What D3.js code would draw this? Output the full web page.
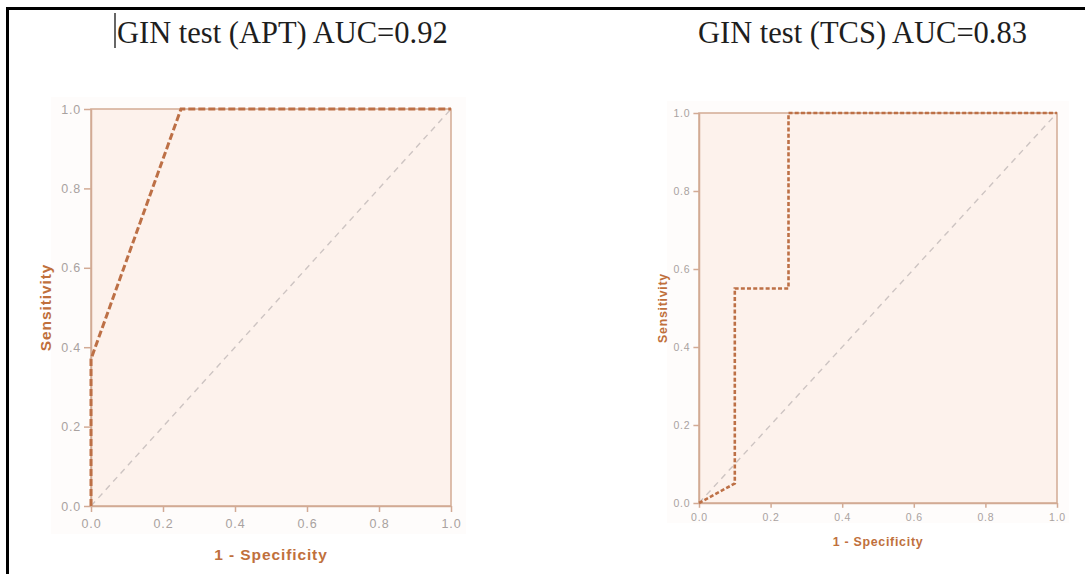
<!doctype html>
<html lang="en">
  <head>
    <meta charset="utf-8">
    <title>GIN test ROC curves</title>
    <script src="https://d3js.org/d3.v7.min.js"></script>
    <style>
    body { margin: 0; background: #fff; }
    .tick text { fill: #a9a2a0; font-family: "Liberation Sans", Arial, sans-serif; }
    </style>
  </head>

  <body>
    <svg width="1085" height="574"></svg>

    <script>
      // data
      var titles = ['GIN test (APT) AUC=0.92', 'GIN test (TCS) AUC=0.83'];
      var xLabel = '1 - Specificity';
      var yLabel = 'Sensitivity';
      var tickValues = [0, 0.2, 0.4, 0.6, 0.8, 1.0];

      var aptFpr = [0, 0, 0.25, 1];
      var aptTpr = [0, 0.37, 1, 1];

      var tcsFpr = [0, 0.1, 0.1, 0.25, 0.25, 1];
      var tcsTpr = [0, 0.05, 0.55, 0.55, 1, 1];

      var diagonal = [0, 1];

      var svg = d3.select('svg');

      // page frame (black lines top and left)
      svg.append('line').attr('x1', 6).attr('x2', 1085).attr('y1', 8.5).attr('y2', 8.5)
        .attr('stroke', '#000').attr('stroke-width', 3);
      svg.append('line').attr('x1', 7.5).attr('x2', 7.5).attr('y1', 7).attr('y2', 574)
        .attr('stroke', '#000').attr('stroke-width', 3);

      var axisColor = '#d2aa94';
      var curveColor = '#bd7046';

      var drawPanel = function(p, fpr, tpr, title) {
        var x = d3.scaleLinear().domain([0, 1]).range([p.left, p.right]);
        var y = d3.scaleLinear().domain([0, 1]).range([p.bottom, p.top]);
        var g = svg.append('g');

        // faint chart background
        g.append('rect')
          .attr('x', p.left - 40 * p.k).attr('y', p.top - 12)
          .attr('width', p.right - p.left + 55 * p.k).attr('height', p.bottom - p.top + 40 * p.k)
          .attr('fill', '#fefcfb');

        g.append('rect')
          .attr('x', p.left).attr('y', p.top)
          .attr('width', p.right - p.left).attr('height', p.bottom - p.top)
          .attr('fill', '#fdf2ec')
          .attr('stroke', axisColor).attr('stroke-width', 1.5);

        var fmt = d3.format('.1f');
        var ax = g.append('g')
          .attr('transform', 'translate(0,' + p.bottom + ')')
          .call(d3.axisBottom(x).tickValues(tickValues).tickFormat(fmt).tickSize(6 * p.k).tickSizeOuter(0));
        var ay = g.append('g')
          .attr('transform', 'translate(' + p.left + ',0)')
          .call(d3.axisLeft(y).tickValues(tickValues).tickFormat(fmt).tickSize(7 * p.k).tickSizeOuter(0));
        [ax, ay].forEach(function(a) {
          a.select('.domain').attr('stroke', axisColor).attr('stroke-width', 1.5);
          a.selectAll('.tick line').attr('stroke', axisColor).attr('stroke-width', 1.5);
          a.selectAll('.tick text').attr('font-size', p.tickFont).attr('letter-spacing', 0.8);
        });
        ax.selectAll('.tick text').attr('dy', '1.0em');

        // reference diagonal
        g.append('path')
          .datum(diagonal)
          .attr('d', d3.line().x(function(d) { return x(d); }).y(function(d) { return y(d); }))
          .attr('fill', 'none')
          .attr('stroke', '#cdc4c2')
          .attr('stroke-width', 1.4)
          .attr('stroke-dasharray', '6,5');

        // ROC curve
        g.append('path')
          .datum(d3.range(fpr.length))
          .attr('d', d3.line().x(function(i) { return x(fpr[i]); }).y(function(i) { return y(tpr[i]); }))
          .attr('fill', 'none')
          .attr('stroke', curveColor)
          .attr('stroke-width', p.curveWidth)
          .attr('stroke-dasharray', p.dash);

        g.append('text')
          .attr('x', (p.left + p.right) / 2).attr('y', p.bottom + 54 * p.k)
          .attr('text-anchor', 'middle')
          .attr('font-family', '"Liberation Sans", Arial, sans-serif')
          .attr('font-weight', 'bold')
          .attr('font-size', 15.5 * p.k)
          .attr('letter-spacing', 0.9 * p.k)
          .attr('fill', '#c0703c')
          .text(xLabel);

        g.append('text')
          .attr('transform', 'translate(' + (p.left - 40 * p.k) + ',' + ((p.top + p.bottom) / 2) + ') rotate(-90)')
          .attr('text-anchor', 'middle')
          .attr('font-family', '"Liberation Sans", Arial, sans-serif')
          .attr('font-weight', 'bold')
          .attr('font-size', 15.5 * p.k)
          .attr('letter-spacing', 0.9 * p.k)
          .attr('fill', '#c0703c')
          .text(yLabel);

        svg.append('text')
          .attr('x', p.titleX).attr('y', 43)
          .attr('font-family', '"Liberation Serif", "Times New Roman", serif')
          .attr('font-size', 30.5)
          .attr('fill', '#1e1e1e')
          .text(title);
      };

      drawPanel({left: 91, right: 451, top: 109, bottom: 506, k: 1, tickFont: 12.5,
        curveWidth: 3, dash: '7,3', titleX: 117}, aptFpr, aptTpr, titles[0]);
      drawPanel({left: 699, right: 1057, top: 113, bottom: 503, k: 0.8, tickFont: 10.5,
        curveWidth: 2.6, dash: '4,2.2', titleX: 698}, tcsFpr, tcsTpr, titles[1]);

      // text cursor in front of the first title
      svg.append('line').attr('x1', 115).attr('x2', 115).attr('y1', 13).attr('y2', 48)
        .attr('stroke', '#000').attr('stroke-width', 1.2);
    </script>
  </body>
</html>
